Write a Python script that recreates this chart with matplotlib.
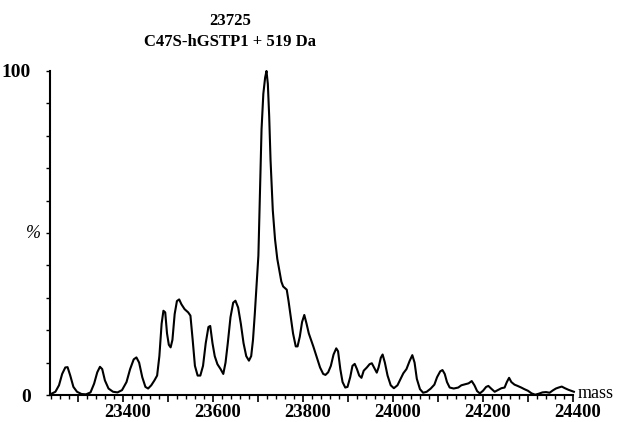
import matplotlib
matplotlib.use("Agg")
import matplotlib.pyplot as plt
from matplotlib.ticker import MultipleLocator, FuncFormatter
import matplotlib.transforms as mtransforms

mass = [23240, 23250, 23258, 23265, 23272, 23277, 23283, 23290, 23298, 23308, 23318, 23328, 23336, 23343,
        23349, 23354, 23360, 23368, 23378, 23388, 23398, 23408, 23416, 23424, 23430, 23436, 23443, 23450,
        23456, 23463, 23470, 23476, 23481, 23486, 23490, 23494, 23498, 23502, 23506, 23510, 23515, 23520,
        23525, 23530, 23537, 23545, 23550, 23555, 23560, 23566, 23572, 23578, 23584, 23590, 23594, 23599,
        23604, 23610, 23617, 23623, 23628, 23633, 23639, 23645, 23650, 23656, 23662, 23668, 23674, 23680,
        23685, 23689, 23693, 23697, 23701, 23704, 23708, 23712, 23716, 23719, 23722, 23725, 23728, 23733,
        23738, 23743, 23748, 23752, 23756, 23760, 23764, 23768, 23772, 23778, 23784, 23788, 23793, 23798,
        23803, 23808, 23813, 23818, 23823, 23830, 23838, 23845, 23850, 23856, 23862, 23868, 23874, 23878,
        23883, 23888, 23894, 23899, 23905, 23910, 23915, 23920, 23925, 23930, 23935, 23942, 23948, 23953,
        23958, 23964, 23968, 23973, 23977, 23982, 23988, 23995, 24002, 24010, 24017, 24023, 24030, 24037,
        24043, 24048, 24053, 24060, 24067, 24075, 24084, 24092, 24098, 24105, 24110, 24115, 24120, 24126,
        24135, 24145, 24152, 24160, 24168, 24175, 24181, 24187, 24193, 24200, 24207, 24212, 24218, 24226,
        24234, 24241, 24248, 24253, 24258, 24263, 24270, 24277, 24285, 24292, 24300, 24308, 24316, 24324,
        24332, 24340, 24348, 24355, 24362, 24368, 24375, 24382, 24390, 24398, 24402]
intensity = [0.3, 1, 3, 6.5, 8.5, 8.6, 6, 2.5, 1, 0.3, 0.2, 0.8, 3.5, 7,
             8.7, 8, 4.5, 2, 1, 0.8, 1.5, 4, 8, 11, 11.6, 10, 5.5, 2.5,
             2, 3, 4.5, 6, 12, 22, 26, 25.5, 19, 15.5, 14.7, 17, 25, 29,
             29.5, 28, 26.5, 25.5, 24.5, 17, 9, 6, 6, 9, 16, 21, 21.3, 16,
             12, 9.5, 8, 6.5, 10, 16, 24, 28.5, 29.1, 27, 22, 16, 12, 10.6,
             12, 17, 25, 34, 43, 60, 82, 93, 98, 100, 96, 86, 72.5, 57,
             48, 42, 38, 35, 33.5, 33, 32.5, 29, 25, 19, 15, 15, 18, 22.5,
             24.7, 22, 19, 17, 15, 12, 8.5, 6.5, 6.2, 7, 9, 12.5, 14.4, 13.5,
             8, 4, 2.3, 2.5, 5.5, 9, 9.6, 8, 6, 5.3, 7.5, 8.5, 9.5, 9.8,
             8.5, 6.9, 8.5, 11.5, 12.5, 10, 6, 3, 2.1, 3, 5, 6.7, 8, 10.5,
             12.3, 10, 5, 1.8, 0.7, 1, 2, 3.2, 5.5, 7.3, 7.7, 6.5, 4, 2.3,
             2, 2.3, 3, 3.3, 3.6, 4.3, 3, 1.2, 0.5, 1.3, 2.5, 2.8, 2, 1,
             1.6, 2.1, 2.3, 4, 5.3, 4, 3.2, 2.8, 2.3, 1.8, 1.3, 0.5, 0.1, 0.4,
             0.8, 0.9, 0.7, 1.4, 2, 2.3, 2.6, 2.1, 1.6, 1.2, 1.0]

x_labels = [23400, 23600, 23800, 24000, 24200, 24400]
title_lines = ["23725", "C47S-hGSTP1 + 519 Da"]

W, H = 618, 422
fig = plt.figure(figsize=(W / 100, H / 100), dpi=100)
ax_l, ax_r, ax_b, ax_t = 50, 573, 395, 71
ax = fig.add_axes([ax_l / W, 1 - ax_b / H, (ax_r - ax_l) / W, (ax_b - ax_t) / H])

ax.plot(mass, intensity, color="black", lw=1.5, clip_on=False)
ax.set_xlim(23238, 24400)
ax.set_ylim(0, 100)

for s in ["top", "right"]:
    ax.spines[s].set_visible(False)
for s in ["left", "bottom"]:
    ax.spines[s].set_linewidth(1.5)

serif = "Liberation Serif"

# x ticks
ax.xaxis.set_major_locator(MultipleLocator(100))
ax.xaxis.set_minor_locator(MultipleLocator(20))
ax.xaxis.set_major_formatter(FuncFormatter(lambda v, p: f"{int(round(v))}" if int(round(v)) in x_labels else ""))
ax.tick_params(axis="x", which="major", direction="out", length=5, width=1.2, pad=1.5)
ax.tick_params(axis="x", which="minor", direction="out", length=3, width=1.0)
for lab in ax.get_xticklabels():
    lab.set_fontfamily(serif)
    lab.set_fontweight("bold")
    lab.set_fontsize(13.5)
    lab.set_transform(lab.get_transform() + mtransforms.ScaledTranslation(5 / 100, 0, fig.dpi_scale_trans))

# y ticks
ax.yaxis.set_major_locator(MultipleLocator(10))
ax.yaxis.set_major_formatter(FuncFormatter(lambda v, p: {0: "0", 100: "100"}.get(int(round(v)), "")))
ax.tick_params(axis="y", which="major", direction="out", length=3, width=1.0, pad=11)
for lab in ax.get_yticklabels():
    lab.set_fontfamily(serif)
    lab.set_fontweight("bold")
    lab.set_fontsize(14)

# % label
fig.text(33 / W, 1 - 234 / H, "%", ha="center", va="center", fontfamily=serif, fontstyle="italic", fontsize=13)

# mass label
fig.text(578 / W, 1 - 394 / H, "mass", ha="left", va="center", fontfamily=serif, fontsize=13)

# title
fig.text(230 / W, 1 - 21 / H, title_lines[0], ha="center", va="center", fontfamily=serif, fontweight="bold", fontsize=12)
fig.text(230 / W, 1 - 42 / H, title_lines[1], ha="center", va="center", fontfamily=serif, fontweight="bold", fontsize=12)

fig.savefig("out.png", dpi=100)
